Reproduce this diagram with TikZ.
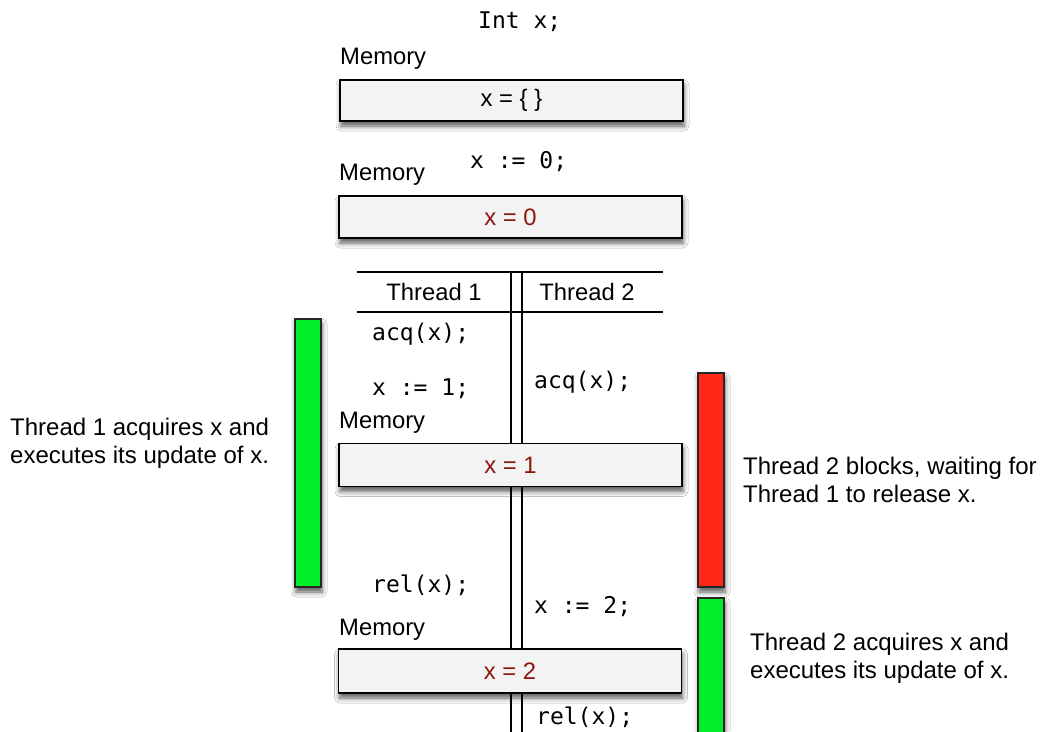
\documentclass[tikz,border=0pt]{standalone}
\usepackage{fontspec}
\setmainfont{Liberation Sans}
\newfontfamily\monof{DejaVu Sans Mono}
\usetikzlibrary{shadows.blur}
\definecolor{memfill}{RGB}{243,243,243}
\definecolor{valred}{RGB}{140,22,12}
\definecolor{bargreen}{RGB}{0,238,40}
\definecolor{barred}{RGB}{255,40,22}
\tikzset{
  sans/.style={font=\fontsize{23.8}{28}\selectfont, inner sep=0pt},
  code/.style={font=\monof\fontsize{23}{27}\selectfont, inner sep=0pt},
  membox/.style={draw=black, line width=1.6pt, fill=memfill, minimum width=343pt, inner sep=0pt,
    font=\fontsize{23.8}{28}\selectfont,
    blur shadow={shadow xshift=1pt, shadow yshift=-5pt, shadow blur radius=5pt, shadow opacity=65}},
  barbox/.style={draw=black!85, line width=1.3pt, minimum width=26pt, inner sep=0pt,
    blur shadow={shadow xshift=1pt, shadow yshift=-5pt, shadow blur radius=5pt, shadow opacity=65}},
  tline/.style={line width=1.4pt},
  note/.style={font=\fontsize{24}{28}\selectfont, inner sep=0pt, align=left}
}
\begin{document}
\begin{tikzpicture}[x=1pt,y=-1pt]
\useasboundingbox (0,0) rectangle (1043,731);
\clip (0,0) rectangle (1043,731);
\fill[white] (0,0) rectangle (1043,731);
% table lines
\coordinate (tl) at (357,272); \coordinate (tr) at (663,272);
\coordinate (hl) at (357,312); \coordinate (hr) at (663,312);
\coordinate (v1t) at (511,272); \coordinate (v1b) at (511,745);
\coordinate (v2t) at (522,272); \coordinate (v2b) at (522,745);
\draw[tline] (tl) -- (tr);
\draw[tline] (hl) -- (hr);
\draw[tline] (v1t) -- (v1b);
\draw[tline] (v2t) -- (v2b);
% top text
\node[code, anchor=base west] (intx) at (478,28) {Int x;};
\node[sans, anchor=base west] (mem1) at (340,64) {Memory};
\node[membox, minimum height=41pt] (box1) at (511.5,100.5) {x = \{ \}};
\node[code, anchor=base west] (x0) at (470,168) {x := 0;};
\node[sans, anchor=base west] (mem2) at (339,180) {Memory};
\node[membox, minimum height=42pt, text=valred] (box2) at (510.5,217) {x = 0};
% table headers
\node[sans, anchor=base] (th1) at (434,300) {Thread 1};
\node[sans, anchor=base] (th2) at (587,300) {Thread 2};
% code
\node[code, anchor=base west] (c1) at (372,340) {acq(x);};
\node[code, anchor=base west] (c2) at (372,395) {x := 1;};
\node[code, anchor=base west] (c3) at (534,388) {acq(x);};
\node[sans, anchor=base west] (mem3) at (339,428) {Memory};
\node[code, anchor=base west] (c4) at (372,592) {rel(x);};
\node[code, anchor=base west] (c5) at (534,613) {x := 2;};
\node[sans, anchor=base west] (mem4) at (339,635) {Memory};
\node[code, anchor=base west] (c6) at (536,724) {rel(x);};
% bars
\node[barbox, fill=bargreen, minimum height=268pt] (g1) at (308,453) {};
\node[barbox, fill=barred, minimum height=214pt] (r1) at (711,480) {};
\node[barbox, fill=bargreen, minimum height=170pt] (g2) at (711,683) {};
% memory boxes
\node[membox, minimum height=43pt, text=valred] (box3) at (510.5,465) {x = 1};
\node[membox, minimum height=44pt, text=valred] (box4) at (510,671) {x = 2};
% notes
\node[note, anchor=base west] (n1) at (10,463) {Thread 1 acquires x and\\executes its update of x.};
\node[note, anchor=base west] (n2) at (743,502) {Thread 2 blocks, waiting for\\Thread 1 to release x.};
\node[note, anchor=base west] (n3) at (750,678) {Thread 2 acquires x and\\executes its update of x.};
\end{tikzpicture}
\end{document}
